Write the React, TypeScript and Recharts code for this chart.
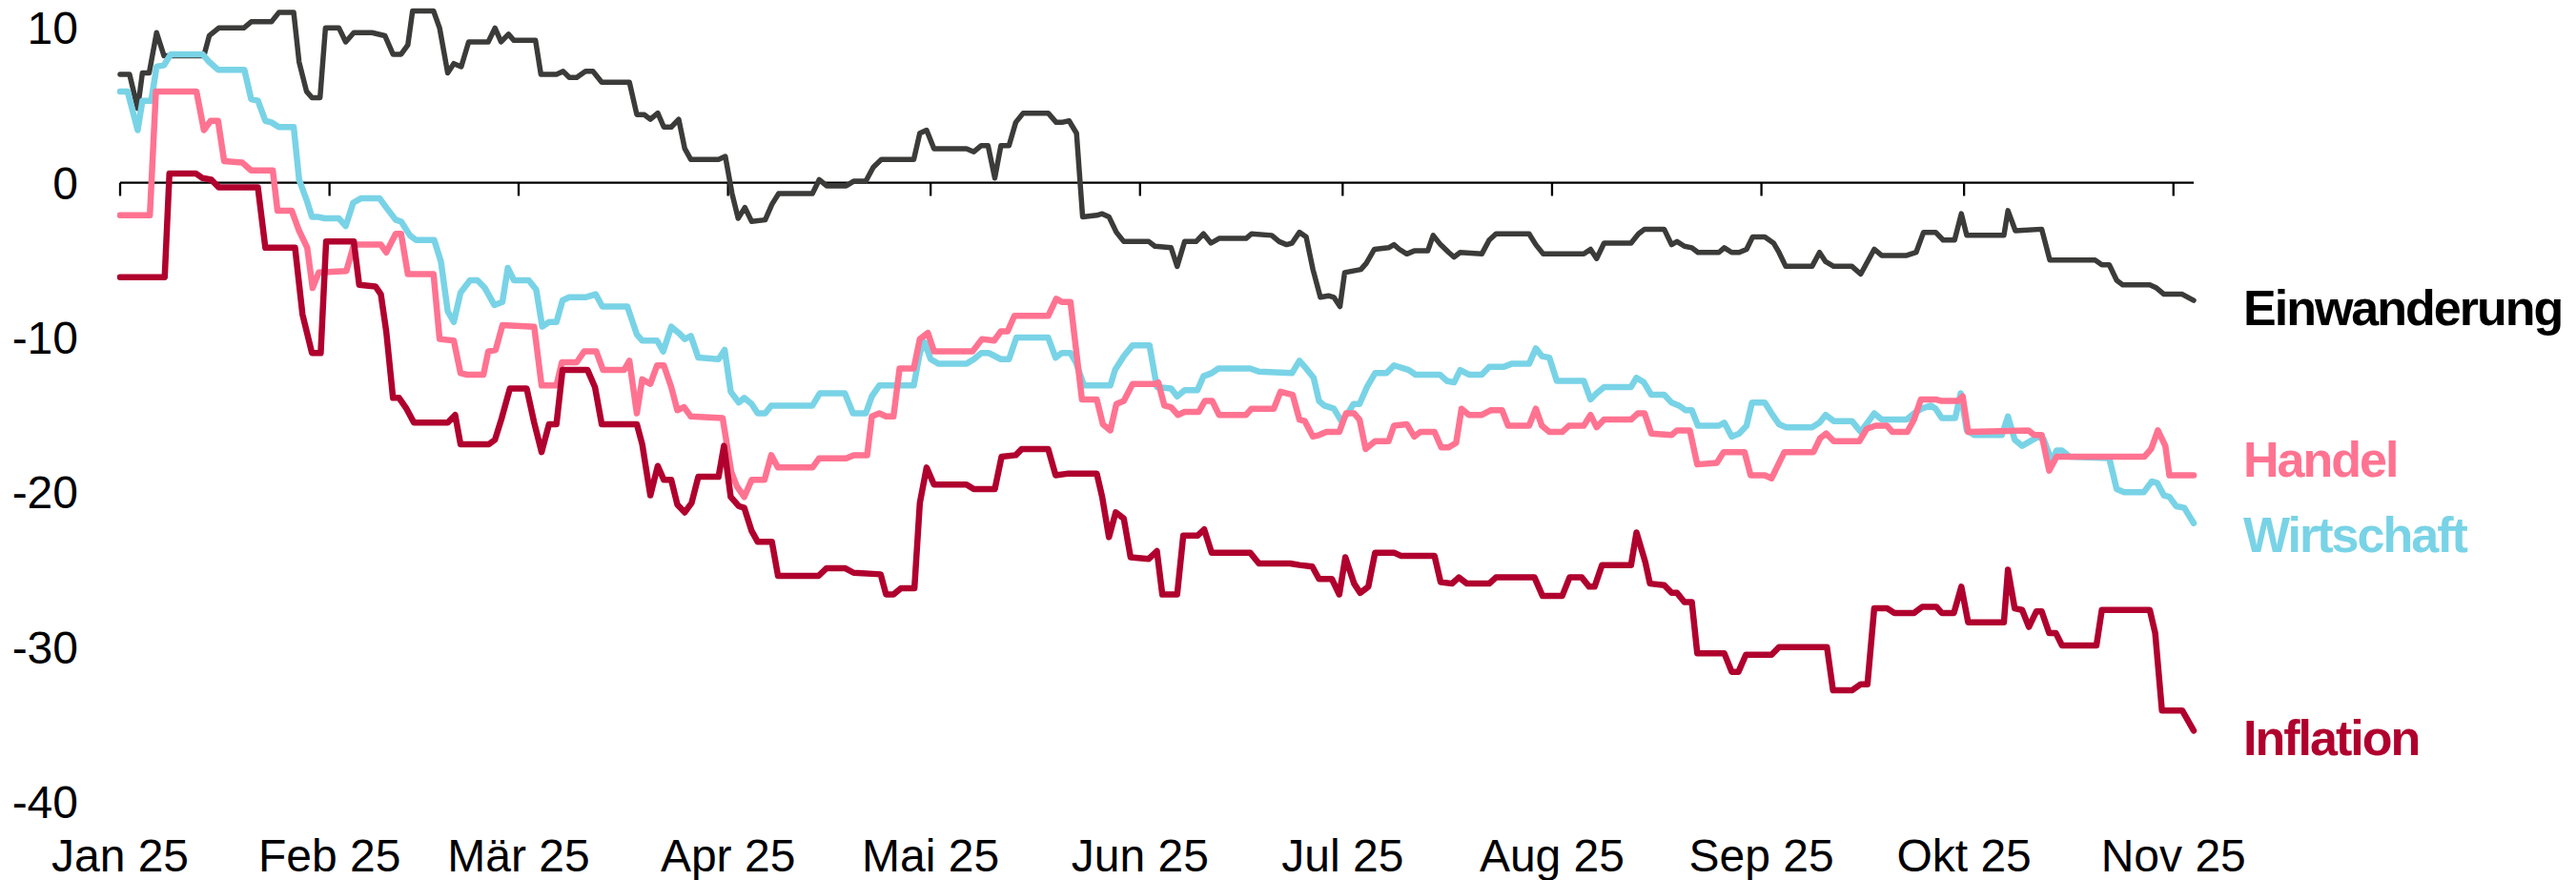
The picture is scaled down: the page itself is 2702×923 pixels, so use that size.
import React from 'react';
import { LineChart, Line, XAxis, YAxis, ReferenceLine } from 'recharts';

const FONT = '"Liberation Sans", Arial, Helvetica, sans-serif';

// x = days since 1 Jan 2025
const monthStarts = [0, 31, 59, 90, 120, 151, 181, 212, 243, 273, 304];
const monthLabels = ['Jan 25', 'Feb 25', 'Mär 25', 'Apr 25', 'Mai 25', 'Jun 25', 'Jul 25', 'Aug 25', 'Sep 25', 'Okt 25', 'Nov 25'];
const yTicks = [-40, -30, -20, -10, 0, 10];

const einwanderung = [
  [0, 7.0], [1.4, 7.0], [2.6, 4.8], [3.3, 7.1], [4.3, 7.1], [5.4, 9.7], [6.5, 8.2], [12.4, 8.2], [13.2, 9.5], [14.6, 10.0],
  [18.3, 10.0], [19.4, 10.4], [22.4, 10.4], [23.5, 11.0], [25.7, 11.0], [26.5, 7.8], [27.6, 5.9], [28.4, 5.5], [29.6, 5.5], [30.4, 10.0],
  [32.4, 10.0], [33.4, 9.1], [34.6, 9.7], [37.3, 9.7], [39.2, 9.5], [40.4, 8.3], [41.6, 8.3], [42.6, 8.9], [43.3, 11.1], [46.4, 11.1],
  [47.3, 10.0], [48.5, 7.1], [49.4, 7.7], [50.5, 7.5], [51.6, 9.1], [54.5, 9.1], [55.5, 10.0], [56.4, 9.1], [57.5, 9.6], [58.3, 9.2],
  [61.5, 9.2], [62.3, 7.0], [64.6, 7.0], [65.6, 7.2], [66.5, 6.8], [67.6, 6.8], [68.9, 7.2], [70.0, 7.2], [71.3, 6.5], [75.4, 6.5],
  [76.5, 4.4], [77.6, 4.4], [78.5, 4.1], [79.6, 4.5], [80.5, 3.6], [81.6, 3.6], [82.7, 4.1], [83.6, 2.2], [84.5, 1.5], [88.6, 1.5],
  [89.6, 1.7], [90.6, -0.7], [91.5, -2.3], [92.5, -1.6], [93.5, -2.5], [95.5, -2.4], [96.5, -1.4], [97.5, -0.7], [102.5, -0.7], [103.5, 0.2],
  [104.6, -0.2], [107.5, -0.2], [108.6, 0.1], [110.4, 0.1], [111.5, 1.0], [112.7, 1.5], [117.5, 1.5], [118.4, 3.2], [119.4, 3.4], [120.5, 2.2],
  [125.3, 2.2], [126.4, 2.0], [127.5, 2.4], [128.5, 2.4], [129.5, 0.3], [130.4, 2.4], [131.6, 2.4], [132.6, 3.9], [133.7, 4.5], [137.4, 4.5],
  [138.6, 3.9], [139.4, 3.9], [140.5, 4.0], [141.6, 3.2], [142.5, -2.2], [144.6, -2.1], [145.4, -2.0], [146.4, -2.2], [147.5, -3.2], [148.6, -3.8],
  [152.3, -3.8], [153.2, -4.1], [155.6, -4.2], [156.5, -5.4], [157.6, -3.8], [159.3, -3.8], [160.4, -3.3], [161.5, -3.9], [162.7, -3.6], [166.7, -3.6],
  [167.5, -3.3], [170.5, -3.4], [171.6, -3.8], [172.7, -4.0], [173.5, -3.9], [174.6, -3.2], [175.6, -3.5], [176.6, -5.6], [177.7, -7.4], [178.9, -7.3],
  [179.7, -7.4], [180.6, -8.0], [181.3, -5.8], [183.7, -5.6], [184.5, -5.2], [185.7, -4.3], [187.8, -4.2], [188.6, -4.0], [189.4, -4.3], [190.5, -4.6],
  [191.6, -4.4], [193.6, -4.4], [194.4, -3.4], [195.5, -4.0], [196.7, -4.5], [197.5, -4.8], [198.4, -4.5], [201.6, -4.6], [202.7, -3.7], [203.7, -3.3],
  [208.6, -3.3], [209.6, -4.0], [210.7, -4.6], [216.7, -4.6], [217.7, -4.3], [218.6, -4.9], [219.7, -3.9], [223.7, -3.9], [224.8, -3.3], [225.7, -3.0],
  [228.6, -3.0], [229.7, -4.0], [230.5, -3.8], [231.6, -4.1], [232.7, -4.2], [233.6, -4.5], [236.7, -4.5], [237.5, -4.2], [238.6, -4.5], [239.7, -4.5],
  [240.8, -4.3], [241.7, -3.5], [243.5, -3.5], [244.8, -3.9], [245.6, -4.5], [246.6, -5.4], [250.5, -5.4], [251.6, -4.5], [252.5, -5.1], [253.7, -5.4],
  [256.4, -5.4], [257.7, -5.9], [259.7, -4.3], [260.8, -4.7], [264.5, -4.7], [265.9, -4.5], [267.0, -3.2], [268.8, -3.2], [269.9, -3.7], [271.6, -3.7],
  [272.6, -2.0], [273.4, -3.4], [278.9, -3.4], [279.5, -1.8], [280.6, -3.1], [284.5, -3.0], [285.7, -5.0], [292.4, -5.0], [293.4, -5.3], [294.5, -5.3],
  [295.6, -6.3], [296.5, -6.6], [300.5, -6.6], [301.5, -6.8], [302.6, -7.2], [305.3, -7.2], [307, -7.6],
];

const handel = [
  [0, -2.1], [4.4, -2.1], [5.3, 5.9], [11.3, 5.9], [12.4, 3.4], [13.4, 4.0], [14.5, 4.0], [15.4, 1.4], [18.1, 1.3], [19.4, 0.8],
  [22.6, 0.8], [23.3, -1.8], [25.4, -1.8], [26.5, -3.1], [27.7, -4.2], [28.5, -6.8], [29.4, -5.8], [33.5, -5.7], [34.6, -4.0], [38.6, -4.0],
  [39.4, -4.5], [40.8, -3.3], [41.6, -3.3], [42.6, -5.9], [46.4, -5.9], [47.3, -10.1], [49.4, -10.2], [50.4, -12.3], [51.4, -12.4], [53.8, -12.4],
  [54.5, -10.9], [55.6, -10.8], [56.6, -9.2], [61.3, -9.3], [62.4, -13.1], [64.6, -13.1], [65.4, -11.6], [67.6, -11.6], [68.7, -10.9], [70.5, -10.9],
  [71.5, -12.1], [74.6, -12.1], [75.4, -11.5], [76.5, -14.9], [77.3, -12.7], [78.5, -13.0], [79.5, -11.8], [80.5, -11.8], [81.6, -13.2], [82.5, -14.7],
  [83.5, -14.5], [84.5, -15.1], [89.2, -15.2], [90.5, -18.7], [91.3, -19.6], [92.4, -20.3], [93.5, -19.2], [95.4, -19.2], [96.4, -17.6], [97.4, -18.4],
  [102.5, -18.4], [103.5, -17.8], [107.5, -17.8], [108.6, -17.6], [110.6, -17.6], [111.3, -15.1], [112.4, -14.9], [113.4, -15.1], [114.5, -15.1], [115.4, -12.0],
  [117.5, -12.0], [118.4, -10.1], [119.6, -9.7], [120.5, -10.9], [126.2, -10.9], [127.6, -10.1], [129.4, -10.2], [130.4, -9.6], [131.4, -9.6], [132.4, -8.6],
  [137.4, -8.6], [138.6, -7.5], [139.4, -7.7], [140.7, -7.7], [142.4, -14.0], [144.6, -14.0], [145.5, -15.6], [146.6, -16.0], [147.5, -14.3], [148.6, -14.1],
  [149.9, -13.0], [153.2, -13.0], [153.7, -12.9], [154.6, -14.4], [155.6, -14.5], [156.6, -15.0], [157.6, -14.8], [159.7, -14.8], [160.6, -14.1], [161.7, -14.1],
  [162.7, -15.0], [166.7, -15.0], [167.5, -14.6], [170.8, -14.6], [171.8, -13.5], [173.6, -13.7], [174.6, -15.3], [175.4, -15.4], [176.6, -16.4], [177.5, -16.3],
  [178.6, -16.1], [180.5, -16.1], [181.5, -14.9], [182.7, -14.9], [183.5, -15.3], [184.4, -17.2], [185.8, -16.7], [187.8, -16.7], [188.6, -15.7], [190.5, -15.6],
  [191.6, -16.4], [192.5, -16.1], [194.6, -16.1], [195.6, -17.1], [196.7, -17.1], [197.8, -16.8], [198.6, -14.6], [199.7, -15.0], [201.6, -15.0], [202.9, -14.7],
  [204.6, -14.7], [205.5, -15.7], [208.6, -15.7], [209.6, -14.6], [210.5, -15.7], [211.6, -16.1], [213.5, -16.1], [214.5, -15.7], [216.7, -15.7], [217.7, -15.0],
  [218.6, -15.8], [219.7, -15.3], [223.7, -15.3], [224.7, -14.9], [225.7, -14.9], [226.7, -16.2], [229.7, -16.3], [230.5, -16.0], [232.4, -16.0], [233.5, -18.2],
  [236.4, -18.1], [237.4, -17.4], [240.5, -17.4], [241.4, -18.9], [243.5, -18.9], [244.5, -19.1], [246.4, -17.4], [250.7, -17.4], [251.7, -16.5], [252.6, -16.2],
  [253.7, -16.7], [257.5, -16.7], [258.6, -15.9], [259.9, -15.7], [261.6, -15.7], [262.4, -16.1], [264.6, -16.1], [265.6, -15.3], [266.6, -14.0], [268.8, -14.0],
  [269.7, -14.1], [272.1, -14.1], [272.8, -13.8], [273.6, -16.1], [282.5, -16.0], [283.4, -16.3], [284.5, -16.3], [285.6, -18.6], [286.7, -17.7], [299.7, -17.7],
  [300.7, -17.2], [301.7, -16.0], [302.8, -17.0], [303.4, -18.9], [307, -18.9],
];

const wirtschaft = [
  [0, 5.9], [1.1, 5.9], [2.6, 3.4], [3.3, 5.3], [4.6, 5.3], [5.4, 7.5], [6.5, 7.6], [7.5, 8.3], [12.2, 8.3], [13.2, 7.8],
  [14.5, 7.3], [18.4, 7.3], [19.4, 5.4], [20.4, 5.3], [21.5, 4.0], [22.4, 3.9], [23.5, 3.6], [25.7, 3.6], [26.5, 0.2], [27.6, -1.1],
  [28.4, -2.2], [29.2, -2.2], [30.3, -2.3], [32.4, -2.3], [33.4, -2.8], [34.5, -1.3], [35.7, -1.0], [38.4, -1.0], [39.4, -1.6], [40.8, -2.4],
  [41.6, -2.5], [42.9, -3.4], [43.8, -3.7], [46.5, -3.7], [47.5, -5.1], [48.5, -8.3], [49.4, -9.0], [50.4, -7.1], [51.8, -6.3], [52.9, -6.3],
  [54.0, -6.8], [55.4, -7.9], [56.6, -7.7], [57.4, -5.5], [58.3, -6.3], [60.5, -6.3], [61.6, -6.9], [62.5, -9.3], [63.5, -9.0], [64.6, -9.0],
  [65.5, -7.6], [66.5, -7.4], [68.9, -7.4], [70.4, -7.2], [71.4, -8.0], [75.1, -8.0], [76.5, -9.8], [77.3, -10.2], [79.5, -10.2], [80.4, -10.9],
  [81.6, -9.3], [82.7, -9.7], [83.6, -10.1], [84.5, -9.9], [85.6, -11.3], [88.6, -11.4], [89.5, -10.8], [90.4, -13.5], [91.6, -14.2], [92.4, -13.9],
  [93.5, -14.3], [94.4, -14.9], [95.5, -14.9], [96.4, -14.4], [102.5, -14.4], [103.6, -13.6], [107.3, -13.6], [108.5, -14.9], [110.4, -14.9], [111.3, -13.8],
  [112.4, -13.1], [117.5, -13.1], [118.4, -11.0], [119.1, -10.3], [120.0, -11.4], [121.2, -11.7], [125.3, -11.7], [126.4, -11.4], [127.5, -11.0], [128.6, -11.0],
  [130.4, -11.4], [131.6, -11.4], [132.7, -10.0], [137.4, -10.0], [138.5, -11.3], [139.4, -11.0], [140.7, -11.0], [141.5, -11.6], [142.7, -13.1], [146.6, -13.1],
  [147.3, -12.1], [148.6, -11.2], [149.9, -10.5], [152.4, -10.5], [153.5, -13.2], [155.6, -13.3], [156.5, -13.8], [157.6, -13.4], [159.5, -13.4], [160.4, -12.5],
  [161.6, -12.3], [162.6, -12.0], [167.3, -12.0], [168.6, -12.2], [173.5, -12.3], [174.6, -11.5], [175.6, -12.0], [176.7, -12.6], [177.5, -14.1], [178.3, -14.4],
  [179.7, -14.6], [180.8, -15.4], [181.9, -14.8], [182.6, -14.3], [183.5, -14.3], [184.6, -13.2], [185.8, -12.3], [187.5, -12.3], [188.6, -11.8], [190.8, -12.1],
  [191.8, -12.4], [195.4, -12.4], [196.4, -12.8], [197.5, -12.9], [198.4, -12.1], [199.7, -12.4], [201.6, -12.4], [202.7, -11.9], [204.8, -11.9], [206.0, -11.7],
  [208.6, -11.7], [209.6, -10.7], [210.5, -11.2], [211.6, -11.3], [212.7, -12.8], [216.7, -12.8], [217.7, -14.0], [218.6, -13.6], [219.7, -13.2], [223.7, -13.2],
  [224.5, -12.6], [225.6, -12.9], [226.7, -13.7], [228.6, -13.7], [229.7, -14.2], [230.8, -14.4], [231.8, -14.7], [232.7, -14.7], [233.6, -15.7], [236.7, -15.7],
  [237.5, -15.5], [238.6, -16.4], [239.7, -16.2], [240.8, -15.7], [241.6, -14.2], [243.5, -14.2], [244.5, -14.9], [245.6, -15.6], [246.7, -15.8], [250.5, -15.8],
  [251.6, -15.5], [252.5, -15.0], [253.7, -15.4], [256.4, -15.4], [257.7, -16.1], [259.7, -14.9], [260.8, -15.3], [264.5, -15.3], [265.6, -14.9], [266.7, -14.6],
  [268.1, -14.4], [268.8, -14.6], [269.7, -15.2], [271.7, -15.2], [272.5, -13.6], [273.4, -16.0], [274.5, -16.3], [278.6, -16.3], [279.5, -15.1], [280.5, -16.6],
  [281.6, -17.0], [284.0, -16.4], [284.8, -16.6], [286.0, -18.0], [286.7, -17.3], [287.5, -17.3], [288.6, -17.7], [294.5, -17.8], [295.6, -19.8], [296.7, -20.0],
  [299.6, -20.0], [300.8, -19.3], [301.6, -19.4], [302.6, -20.2], [303.4, -20.3], [304.4, -20.9], [305.6, -21.0], [307, -22.0],
];

const inflation = [
  [0, -6.1], [6.6, -6.1], [7.3, 0.6], [11.2, 0.6], [12.2, 0.3], [13.5, 0.2], [14.6, -0.3], [20.4, -0.3], [21.5, -4.2], [25.9, -4.2],
  [27.0, -8.5], [28.4, -11.0], [29.7, -11.0], [30.5, -3.8], [34.6, -3.8], [35.4, -6.6], [37.8, -6.7], [38.6, -7.2], [39.4, -9.6], [40.4, -13.9],
  [41.3, -13.9], [42.4, -14.6], [43.5, -15.5], [48.5, -15.5], [49.6, -15.0], [50.4, -16.9], [54.6, -16.9], [55.5, -16.6], [56.5, -15.2], [57.7, -13.3],
  [60.2, -13.3], [61.3, -15.5], [62.4, -17.4], [63.5, -15.6], [64.6, -15.6], [65.5, -12.1], [69.2, -12.1], [70.3, -13.2], [71.3, -15.6], [76.5, -15.6],
  [77.3, -16.9], [78.5, -20.2], [79.6, -18.3], [80.5, -19.2], [81.6, -19.2], [82.5, -20.8], [83.6, -21.3], [84.6, -20.7], [85.6, -19.0], [88.6, -19.0],
  [89.4, -17.0], [90.4, -20.3], [91.6, -20.9], [92.4, -21.0], [93.5, -22.5], [94.4, -23.2], [96.5, -23.2], [97.4, -25.4], [103.4, -25.4], [104.6, -24.9],
  [107.3, -24.9], [108.6, -25.2], [112.6, -25.3], [113.4, -26.6], [114.5, -26.6], [115.6, -26.2], [117.6, -26.2], [118.4, -20.7], [119.4, -18.4], [120.5, -19.5],
  [125.3, -19.5], [126.4, -19.8], [129.5, -19.8], [130.5, -17.7], [132.6, -17.6], [133.5, -17.2], [137.4, -17.2], [138.5, -18.9], [140.2, -18.8], [144.6, -18.8],
  [145.4, -20.3], [146.4, -22.9], [147.4, -21.3], [148.6, -21.7], [149.6, -24.2], [152.3, -24.3], [153.5, -23.8], [154.3, -26.6], [156.5, -26.6], [157.4, -22.8],
  [159.5, -22.8], [160.5, -22.4], [161.6, -23.9], [167.3, -23.9], [168.6, -24.6], [173.2, -24.6], [174.6, -24.7], [176.5, -24.8], [177.5, -25.6], [179.4, -25.6],
  [180.5, -26.6], [181.4, -24.2], [182.7, -25.9], [183.6, -26.5], [184.8, -26.1], [185.8, -23.9], [188.6, -23.9], [189.6, -24.1], [194.6, -24.1], [195.5, -25.8],
  [197.2, -25.9], [198.2, -25.5], [199.4, -25.9], [202.7, -25.9], [203.7, -25.5], [209.4, -25.5], [210.6, -26.7], [213.5, -26.7], [214.6, -25.5], [216.4, -25.5],
  [217.5, -26.1], [218.3, -26.1], [219.4, -24.7], [223.7, -24.7], [224.5, -22.6], [225.8, -24.5], [226.5, -25.9], [228.6, -26.0], [229.7, -26.5], [230.5, -26.5],
  [231.6, -27.1], [232.7, -27.1], [233.5, -30.4], [237.5, -30.4], [238.6, -31.6], [239.6, -31.6], [240.7, -30.5], [244.5, -30.5], [245.6, -30.0], [252.7, -30.0],
  [253.6, -32.8], [256.4, -32.8], [257.7, -32.4], [258.7, -32.4], [259.7, -27.5], [261.6, -27.5], [262.7, -27.8], [265.6, -27.8], [266.8, -27.4], [268.9, -27.4],
  [269.7, -27.8], [271.5, -27.8], [272.6, -26.1], [273.6, -28.4], [278.9, -28.4], [279.5, -25.0], [280.5, -27.5], [281.6, -27.6], [282.6, -28.7], [283.7, -27.7],
  [284.5, -27.7], [285.6, -29.1], [286.6, -29.1], [287.5, -29.9], [292.6, -29.9], [293.4, -27.6], [300.5, -27.6], [301.3, -29.1], [302.3, -34.1], [305.3, -34.1],
  [307, -35.4],
];

const toPoints = (rows: number[][]) => rows.map(([day, value]) => ({ day, value }));

// draw order matters: later series sit on top
const series = [
  { name: 'Einwanderung', rows: einwanderung, stroke: '#3b3c3a', text: '#000000', width: 5.5, dy: 26 },
  { name: 'Wirtschaft', rows: wirtschaft, stroke: '#79d3e6', text: '#79d3e6', width: 6.5, dy: 30 },
  { name: 'Handel', rows: handel, stroke: '#ff7391', text: '#ff7391', width: 6.5, dy: 2 },
  { name: 'Inflation', rows: inflation, stroke: '#b0002e', text: '#b0002e', width: 6.5, dy: 25.5 },
];

const endLabel = (name: string, color: string, dy: number, last: number) => (props: any) => {
  if (props.index !== last) return <g />;
  return (
    <text x={props.x + 52} y={props.y + dy} fill={color} fontSize={52} fontWeight="bold" letterSpacing={-2} fontFamily={FONT}>
      {name}
    </text>
  );
};

export default function App() {
  const tickStyle = { fontSize: 48, fill: '#000', fontFamily: FONT };
  return (
    <div style={{ position: 'absolute', left: 0, top: 0, width: 2702, height: 923, background: '#fff' }}>
      <LineChart width={2702} height={923} margin={{ top: 5, right: 401, bottom: 0, left: 0 }}>
        <XAxis
          type="number"
          dataKey="day"
          domain={[0, 307]}
          ticks={monthStarts}
          interval={0}
          tickFormatter={(d) => monthLabels[monthStarts.indexOf(d)]}
          axisLine={false}
          tickLine={false}
          tickSize={0}
          tickMargin={39}
          height={82}
          tick={tickStyle}
        />
        <YAxis
          type="number"
          domain={[-40, 11.5]}
          ticks={yTicks}
          interval={0}
          width={126}
          axisLine={false}
          tickLine={false}
          tickSize={0}
          tickMargin={44}
          tick={tickStyle}
        />
        <ReferenceLine y={0} stroke="#000" strokeWidth={2.3} />
        {monthStarts.map((d) => (
          <ReferenceLine key={d} segment={[{ x: d, y: 0 }, { x: d, y: -0.85 }]} stroke="#000" strokeWidth={2.3} />
        ))}
        {series.map((s) => (
          <Line
            key={s.name}
            data={toPoints(s.rows)}
            dataKey="value"
            type="linear"
            stroke={s.stroke}
            strokeWidth={s.width}
            strokeLinejoin="round"
            strokeLinecap="round"
            dot={false}
            activeDot={false}
            isAnimationActive={false}
            label={endLabel(s.name, s.text, s.dy, s.rows.length - 1)}
          />
        ))}
      </LineChart>
    </div>
  );
}
